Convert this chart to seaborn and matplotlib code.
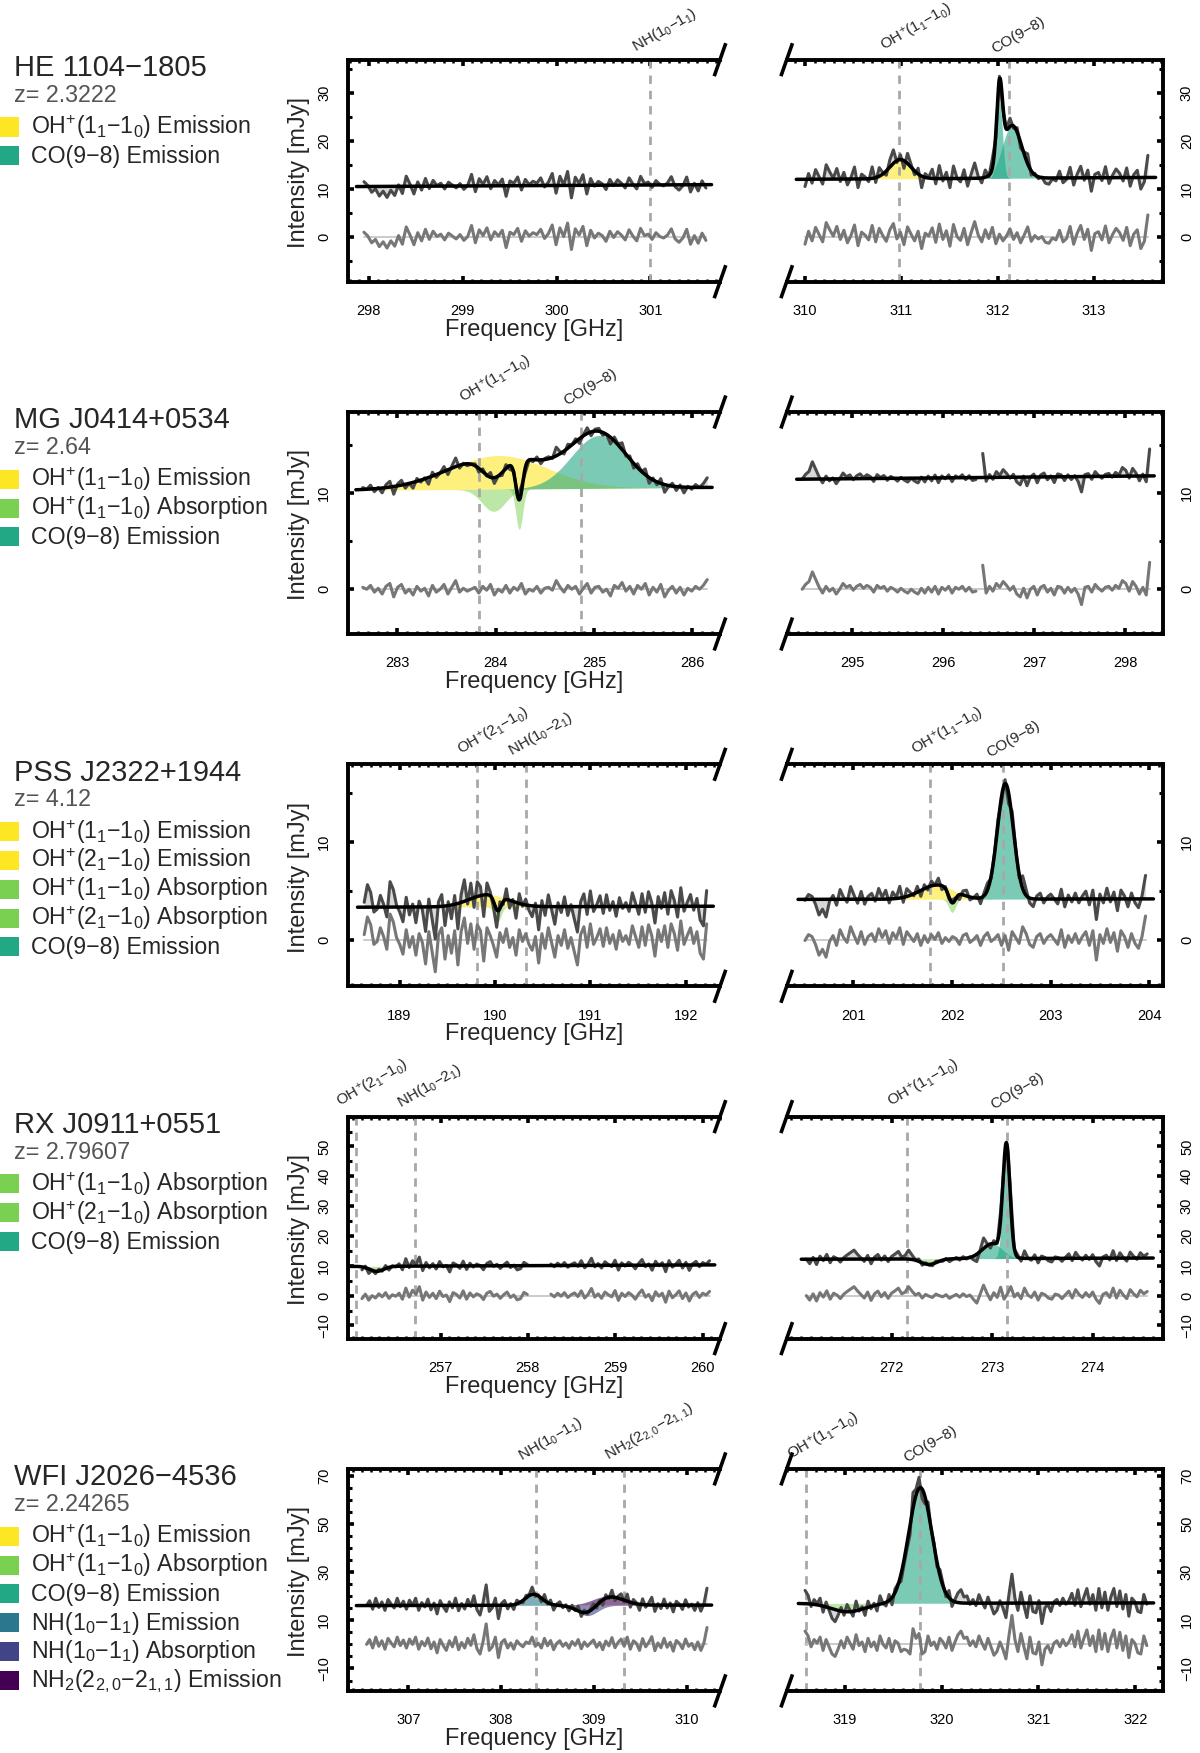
import numpy as np
import pandas as pd
import matplotlib
matplotlib.use("Agg")
import matplotlib.pyplot as plt
from matplotlib.patches import Rectangle
from matplotlib.ticker import MultipleLocator, FixedLocator
import seaborn as sns

sns.set_style("white")
plt.rcParams['font.family'] = ['Liberation Sans', 'DejaVu Sans']
plt.rcParams['mathtext.fontset'] = 'custom'
plt.rcParams['mathtext.rm'] = 'Liberation Sans'
plt.rcParams['mathtext.it'] = 'Liberation Sans:italic'

# colours of the line components
COL = {"oh_em": "#FDE725", "oh_ab": "#7AD151", "co": "#22A884",
       "nh_em": "#2A788E", "nh_ab": "#414487", "nh2_em": "#440154"}

def sub(s):
    return r"$_\mathregular{" + s + "}$"

OHP = r"OH$^\mathregular{+}$"
L_OH11 = OHP + "(1" + sub("1") + "−1" + sub("0") + ")"
L_OH21 = OHP + "(2" + sub("1") + "−1" + sub("0") + ")"
L_CO = "CO(9−8)"
L_NH11 = "NH(1" + sub("0") + "−1" + sub("1") + ")"
L_NH21 = "NH(1" + sub("0") + "−2" + sub("1") + ")"
L_NH2 = "NH" + sub("2") + "(2" + sub("2,0") + "−2" + sub("1,1") + ")"

# ---------------- HE 1104-1805 ----------------
he_l_res = [1.0,0.2,-1.2,-0.5,-2.0,-1.0,-2.3,-0.8,-1.9,0.3,-1.5,2.1,0.4,-1.6,0.9,-0.8,1.6,-0.5,1.2,0.1,
            0.6,-0.6,0.8,0.2,-0.4,0.5,-0.7,0.1,2.4,-1.2,1.5,0.3,1.9,-0.6,1.1,0.2,1.4,-2.2,1.0,0.5,
            1.8,-0.9,1.3,0.2,0.9,0.5,1.6,-0.3,0.7,2.5,-1.6,1.9,0.1,2.9,-2.6,1.7,0.4,2.2,-1.8,1.4,
            -0.2,0.8,0.3,-0.9,1.2,-0.1,1.1,0.4,-0.6,1.5,0.2,-0.8,1.8,0.3,0.6,-0.5,0.9,0.1,-0.2,0.4,
            1.7,-0.4,-1.1,-0.2,1.6,-1.5,0.3,-1.3,0.8,-0.7]
he_l_chan = (297.95, 301.59)
he_l_span = (297.87, 301.65)
he_l_cont = (10.5, 10.9)
he_l_lines = []
he_l_marks = [(301.0, L_NH11)]
he_l_xlim = (297.78, 301.74)
he_l_xticks = [298, 299, 300, 301]

he_r_res = [-1.5,1.2,-0.8,2.0,0.5,-1.0,3.0,1.5,0.2,2.2,-0.5,1.4,-1.2,0.3,2.5,-1.8,1.0,0.4,-0.6,2.4,
            -1.0,1.8,0.3,-0.9,1.5,2.8,-0.4,1.0,-1.6,2.1,0.6,-0.8,1.2,-2.4,0.8,0.2,1.9,-1.1,2.7,-0.5,
            1.3,-1.9,2.6,0.1,-0.7,1.8,-1.6,0.9,3.2,0.4,-1.0,1.5,-0.3,2.0,-1.4,0.6,-0.8,0.2,1.7,-0.5,
            0.9,-1.2,0.4,2.1,-0.9,0.3,-0.4,0.1,-1.1,-1.3,-0.2,-0.6,1.4,-1.0,-0.3,2.2,-1.5,0.8,2.4,-0.5,
            1.6,-2.8,0.7,1.1,-0.6,2.3,-1.2,0.5,1.8,0.9,-0.7,2.0,-1.8,0.6,1.5,-2.4,-0.9,4.6]
he_r_chan = (310.0, 313.56)
he_r_span = (309.91, 313.64)
he_r_cont = (12.0, 12.4)
he_r_lines = [("oh_em", 310.99, 4.0, 0.11), ("co", 312.15, 11.0, 0.10), ("co", 312.02, 16.0, 0.03)]
he_r_marks = [(310.98, L_OH11), (312.12, L_CO)]
he_r_xlim = (309.81, 313.72)
he_r_xticks = [310, 311, 312, 313]

# ---------------- MG J0414+0534 ----------------
mg_l_res = [0.2,0.0,0.4,-0.3,0.1,-0.5,0.3,0.6,-0.8,0.2,0.5,-0.4,0.0,-0.6,0.3,-0.2,0.1,-0.7,0.4,-0.3,
            0.0,0.5,-0.5,0.2,0.9,-0.3,0.1,-0.2,0.0,0.2,-0.4,0.3,-0.1,0.5,-0.6,0.0,-0.3,0.4,-0.4,0.2,
            -0.1,0.6,-0.5,0.0,-0.2,0.3,-0.4,0.1,0.2,-0.1,0.9,0.2,-0.3,0.4,0.0,0.3,-0.5,0.1,0.6,-0.4,
            0.2,0.3,-0.3,0.0,-0.7,0.4,0.1,0.7,-0.2,0.3,-0.5,0.4,0.0,0.6,-0.6,0.2,-0.3,0.5,-0.8,-0.1,
            0.3,-0.4,0.2,-0.6,0.1,-0.2,0.3,0.0,0.4,1.0]
mg_l_chan = (282.65, 286.15)
mg_l_span = (282.58, 286.2)
mg_l_cont = (10.3, 10.6)
mg_l_lines = [("oh_em", 284.03, 3.5, 0.5), ("oh_ab", 283.98, -2.3, 0.12),
              ("oh_ab", 284.24, -4.2, 0.035), ("co", 285.05, 5.5, 0.28)]
mg_l_marks = [(283.83, L_OH11), (284.87, L_CO)]
mg_l_xlim = (282.50, 286.28)
mg_l_xticks = [283, 284, 285, 286]

mg_r_res = [0.0,0.5,0.8,1.8,1.0,0.2,-0.4,0.3,-0.2,0.1,-0.5,0.0,0.6,0.2,0.4,-0.1,0.3,0.5,0.1,0.4,
            0.2,-0.3,0.4,0.1,0.3,-0.2,0.2,0.0,-0.3,0.1,-0.2,-0.4,0.0,-0.3,-0.5,0.1,-0.4,0.2,-0.3,0.3,
            -0.5,0.2,-0.1,0.3,-0.4,0.2,0.0,0.3,-0.2,0.2,-0.3,-0.2,np.nan,2.5,-0.4,0.3,-0.2,0.6,0.2,0.8,
            0.4,-0.1,0.3,-0.5,-0.8,0.1,-0.9,0.0,0.3,-0.6,0.2,0.4,-0.3,0.1,-0.6,0.3,0.2,-0.4,0.2,-0.3,
            0.1,-0.5,-1.6,0.2,0.3,-0.3,0.5,0.1,-0.2,0.2,0.3,-0.1,0.4,0.1,0.9,0.6,-0.2,0.8,0.3,-0.5,
            0.2,-0.6,2.8]
mg_r_chan = (294.45, 298.27)
mg_r_span = (294.39, 298.32)
mg_r_cont = (11.45, 11.8)
mg_r_lines = []
mg_r_marks = []
mg_r_xlim = (294.28, 298.42)
mg_r_xticks = [295, 296, 297, 298]

# ---------------- PSS J2322+1944 ----------------
pss_l_res = [0.5,2.3,1.5,-0.5,-0.2,1.2,0.3,-1.0,2.6,1.8,0.2,-0.5,-1.5,1.0,-0.8,0.3,-1.6,0.6,-0.3,-2.5,
             0.8,-1.2,-3.3,0.5,1.2,-2.0,0.4,-1.4,0.9,-2.6,0.8,2.2,-0.4,1.6,-1.0,1.5,0.9,-2.2,1.2,0.4,
             -0.6,-1.8,0.7,-0.3,1.1,-0.8,0.2,-1.6,1.0,-0.2,0.6,-0.5,-1.1,0.3,-2.4,0.6,-0.9,1.2,-0.3,-1.8,
             0.4,-0.6,1.0,-0.9,0.2,-1.2,-2.6,0.5,1.3,-0.8,1.6,-0.5,0.2,1.1,-0.7,1.2,-0.4,0.5,-1.0,0.9,
             -0.2,0.4,-0.5,1.4,0.3,-0.8,1.3,-0.6,1.5,0.4,-1.7,1.0,-0.2,1.4,-0.8,1.6,0.6,-1.1,1.9,-0.5,
             0.4,1.2,-0.4,0.8,-1.4,-2.0,1.6]
pss_l_chan = (188.63, 192.22)
pss_l_span = (188.56, 192.29)
pss_l_cont = (3.3, 3.4)
pss_l_lines = [("oh_em", 189.93, 1.25, 0.2), ("oh_ab", 190.03, -1.5, 0.035)]
pss_l_marks = [(189.81, L_OH21), (190.33, L_NH21)]
pss_l_xlim = (188.46, 192.36)
pss_l_xticks = [189, 190, 191, 192]

pss_r_res = [-0.1,0.5,0.3,-0.5,-1.6,-1.0,-1.8,-0.2,0.4,-0.6,1.0,0.2,-0.3,1.3,0.4,-0.4,0.8,-0.5,0.3,0.6,
             -0.2,1.1,0.2,0.9,-0.4,0.7,0.1,1.2,-0.5,0.8,0.3,-0.2,0.6,-0.6,0.4,-0.3,0.5,0.0,0.7,-0.4,
             0.2,-0.2,0.3,0.1,-0.5,0.4,0.6,-0.3,0.0,0.4,-0.6,0.3,0.7,-0.2,0.1,0.5,-0.6,0.4,-1.1,0.8,
             0.2,-0.4,1.3,0.6,-0.5,-0.8,0.3,0.6,-0.4,0.2,0.5,0.0,-0.5,1.0,-0.8,0.4,-0.3,0.6,-0.4,0.3,
             0.8,-0.6,0.9,-2.1,0.5,-0.4,1.1,-0.3,0.7,-1.2,0.9,0.3,-0.8,0.6,-0.4,-0.9,0.3,2.4]
pss_r_chan = (200.51, 203.96)
pss_r_span = (200.44, 204.04)
pss_r_cont = (4.1, 4.15)
pss_r_lines = [("oh_em", 201.85, 1.45, 0.17), ("oh_ab", 202.0, -1.35, 0.035), ("co", 202.54, 11.8, 0.08)]
pss_r_marks = [(201.78, L_OH11), (202.52, L_CO)]
pss_r_xlim = (200.325, 204.14)
pss_r_xticks = [201, 202, 203, 204]

# ---------------- RX J0911+0551 ----------------
rx_l_res = [-1.0,0.5,-1.5,0.0,-0.8,0.6,-0.4,1.0,-0.9,0.3,-0.2,0.8,-1.2,2.5,-0.5,1.8,0.4,3.0,-1.5,1.2,
            -0.6,0.8,-1.0,1.5,-0.3,0.2,-2.0,1.0,0.4,-0.8,1.6,-1.2,0.9,-0.4,0.6,0.1,-1.3,0.8,1.4,-0.2,
            0.5,-0.9,0.3,1.2,-0.6,0.2,-1.4,-1.0,1.1,0.4,np.nan,np.nan,np.nan,np.nan,np.nan,np.nan,
            0.5,-0.4,0.8,-0.2,1.0,-0.6,0.3,0.9,-0.3,1.6,-0.8,0.4,2.4,-0.5,0.6,-0.9,1.2,0.3,-0.4,1.7,
            -1.6,0.8,-0.3,1.0,0.2,-1.2,0.6,1.9,-0.5,0.4,-1.7,1.3,-0.2,0.8,-2.2,1.5,-0.7,0.3,1.6,-1.0,
            0.9,-1.8,0.4,1.2,-0.6,0.8,0.2,1.4]
rx_l_chan = (256.1, 260.08)
rx_l_span = (255.95, 260.14)
rx_l_cont = (9.8, 10.3)
rx_l_lines = [("oh_ab", 256.27, -1.7, 0.08)]
rx_l_marks = [(256.03, L_OH21), (256.71, L_NH21)]
rx_l_xlim = (255.94, 260.20)
rx_l_xticks = [257, 258, 259, 260]

rx_r_res = [0.0,-1.5,0.6,-1.8,1.0,-0.5,1.6,-1.2,0.8,0.2,-1.0,0.5,1.4,2.2,3.0,1.6,0.4,-0.8,1.2,-1.6,
            0.6,1.5,-0.4,1.0,-0.9,0.8,1.6,2.5,0.6,1.2,3.0,1.5,0.2,0.8,-0.8,0.4,-0.2,-0.6,0.5,0.0,
            -0.4,0.3,-0.9,-0.2,0.4,-0.5,0.6,-0.3,0.2,-1.2,-2.5,0.5,3.5,0.8,-1.4,1.0,-0.6,2.8,-1.2,0.6,
            3.0,-0.4,0.8,-1.0,2.5,0.2,-0.6,1.2,-1.5,0.8,0.3,-0.8,-1.2,0.5,0.2,-1.0,0.3,1.5,-0.8,2.0,
            0.4,-0.6,1.0,-0.4,1.2,-1.2,-2.6,0.4,1.0,-0.6,2.5,-0.8,1.8,0.2,-1.0,2.0,0.6,-0.4,1.8,0.6,1.4]
rx_r_chan = (271.15, 274.54)
rx_r_span = (271.10, 274.60)
rx_r_cont = (12.2, 12.6)
rx_r_lines = [("oh_ab", 272.37, -1.9, 0.08), ("co", 273.0, 5.0, 0.10), ("co", 273.14, 37.0, 0.035)]
rx_r_marks = [(272.15, L_OH11), (273.15, L_CO)]
rx_r_xlim = (270.955, 274.70)
rx_r_xticks = [272, 273, 274]

# ---------------- WFI J2026-4536 ----------------
wfi_l_res = [0.0,2.0,-1.5,3.0,-0.8,1.5,-2.0,2.5,0.6,-1.0,3.0,-0.5,1.8,-1.5,2.2,0.0,3.0,-2.0,1.2,-0.6,
             2.6,-1.8,1.0,-3.5,2.0,-0.5,-2.5,1.5,-1.0,3.0,-2.2,0.8,-1.5,2.5,-0.4,4.0,-1.8,-4.0,1.2,8.5,
             -2.5,-1.0,3.0,-5.5,0.8,2.0,-1.5,0.6,-2.0,1.5,0.0,-1.0,1.0,0.4,3.0,-0.8,0.5,-1.5,2.5,-0.6,
             1.6,-2.2,0.4,1.5,-0.8,0.6,-1.6,1.2,-0.4,2.0,-1.8,1.0,-0.8,0.6,1.8,-1.2,0.8,-2.2,1.4,-0.6,
             2.8,-1.4,0.8,2.2,-0.8,3.0,-2.0,1.5,0.4,-2.5,2.4,-1.0,0.8,3.2,-2.6,0.6,-1.4,2.5,-1.2,0.9,
             -2.8,1.6,0.4,-1.8,2.2,-0.8,0.4,-2.2,1.0,-2.5,0.6,7.0]
wfi_l_chan = (306.55, 310.22)
wfi_l_span = (306.44, 310.27)
wfi_l_cont = (16.1, 16.3)
wfi_l_lines = [("nh_em", 308.35, 4.6, 0.09), ("nh_ab", 308.93, -4.3, 0.11), ("nh2_em", 309.15, 3.8, 0.16)]
wfi_l_marks = [(308.38, L_NH11), (309.32, L_NH2)]
wfi_l_xlim = (306.35, 310.36)
wfi_l_xticks = [307, 308, 309, 310]

wfi_r_res = [5.5,3.5,-1.0,2.0,0.5,3.0,-2.5,2.0,-1.0,-4.0,-5.0,-2.0,1.5,-1.5,3.0,0.5,-2.0,4.0,-0.5,1.0,
             -3.0,2.5,-1.0,1.0,-2.5,3.5,0.0,-1.5,2.5,-3.0,1.5,0.5,-3.0,-2.0,-2.5,-4.0,6.5,2.5,4.5,-4.0,
             -3.0,3.5,-0.5,1.0,-2.0,2.5,1.0,-1.5,3.0,-2.5,1.0,4.0,5.5,2.5,3.0,-0.5,1.5,-1.0,3.5,0.5,
             -2.0,2.5,-1.0,-4.5,-3.0,1.0,-2.0,-6.0,3.5,12.0,2.0,-3.0,4.5,-1.0,-6.0,3.0,-3.5,-4.0,1.0,-8.5,
             -2.0,-0.5,-3.5,0.5,1.5,-1.0,2.0,-0.5,1.0,4.0,-1.0,5.5,-1.5,2.5,6.0,-0.5,3.5,-3.0,6.0,-2.0,
             4.5,-3.0,2.5,6.0,-1.5,5.0,-2.5,3.5,-5.5,2.0,0.5,-3.5,-4.0,3.5,-0.5]
wfi_r_chan = (318.59, 322.12)
wfi_r_span = (318.52, 322.19)
wfi_r_cont = (17.0, 17.2)
wfi_r_lines = [("oh_ab", 319.03, -3.5, 0.17), ("co", 319.78, 48.0, 0.12)]
wfi_r_marks = [(318.6, L_OH11), (319.78, L_CO)]
wfi_r_xlim = (318.40, 322.29)
wfi_r_xticks = [319, 320, 321, 322]

# source names, redshifts, legends and y axes
names = ["HE 1104−1805", "MG J0414+0534", "PSS J2322+1944", "RX J0911+0551", "WFI J2026−4536"]
redshifts = ["2.3222", "2.64", "4.12", "2.79607", "2.24265"]
legends = [
    [(L_OH11 + " Emission", "oh_em"), (L_CO + " Emission", "co")],
    [(L_OH11 + " Emission", "oh_em"), (L_OH11 + " Absorption", "oh_ab"), (L_CO + " Emission", "co")],
    [(L_OH11 + " Emission", "oh_em"), (L_OH21 + " Emission", "oh_em"), (L_OH11 + " Absorption", "oh_ab"),
     (L_OH21 + " Absorption", "oh_ab"), (L_CO + " Emission", "co")],
    [(L_OH11 + " Absorption", "oh_ab"), (L_OH21 + " Absorption", "oh_ab"), (L_CO + " Emission", "co")],
    [(L_OH11 + " Emission", "oh_em"), (L_OH11 + " Absorption", "oh_ab"), (L_CO + " Emission", "co"),
     (L_NH11 + " Emission", "nh_em"), (L_NH11 + " Absorption", "nh_ab"), (L_NH2 + " Emission", "nh2_em")],
]
ylims = [(-9.3, 36.9), (-4.66, 18.45), (-4.78, 17.9), (-14.4, 60.0), (-19.3, 72.8)]
yticklabs = [[0, 10, 20, 30], [0, 10], [0, 10], [-10, 0, 10, 20, 30, 40, 50], [-10, 10, 30, 50, 70]]

def panel(res, chan, span, cont, lines, marks, xlim, xticks):
    return dict(res=res, chan=chan, span=span, cont=cont, lines=lines, marks=marks, xlim=xlim, xticks=xticks)

panels = [
    (panel(he_l_res, he_l_chan, he_l_span, he_l_cont, he_l_lines, he_l_marks, he_l_xlim, he_l_xticks),
     panel(he_r_res, he_r_chan, he_r_span, he_r_cont, he_r_lines, he_r_marks, he_r_xlim, he_r_xticks)),
    (panel(mg_l_res, mg_l_chan, mg_l_span, mg_l_cont, mg_l_lines, mg_l_marks, mg_l_xlim, mg_l_xticks),
     panel(mg_r_res, mg_r_chan, mg_r_span, mg_r_cont, mg_r_lines, mg_r_marks, mg_r_xlim, mg_r_xticks)),
    (panel(pss_l_res, pss_l_chan, pss_l_span, pss_l_cont, pss_l_lines, pss_l_marks, pss_l_xlim, pss_l_xticks),
     panel(pss_r_res, pss_r_chan, pss_r_span, pss_r_cont, pss_r_lines, pss_r_marks, pss_r_xlim, pss_r_xticks)),
    (panel(rx_l_res, rx_l_chan, rx_l_span, rx_l_cont, rx_l_lines, rx_l_marks, rx_l_xlim, rx_l_xticks),
     panel(rx_r_res, rx_r_chan, rx_r_span, rx_r_cont, rx_r_lines, rx_r_marks, rx_r_xlim, rx_r_xticks)),
    (panel(wfi_l_res, wfi_l_chan, wfi_l_span, wfi_l_cont, wfi_l_lines, wfi_l_marks, wfi_l_xlim, wfi_l_xticks),
     panel(wfi_r_res, wfi_r_chan, wfi_r_span, wfi_r_cont, wfi_r_lines, wfi_r_marks, wfi_r_xlim, wfi_r_xticks)),
]

def baseline(f, p):
    (f0, f1), (c0, c1) = p["span"], p["cont"]
    return c0 + (c1 - c0) * (f - f0) / (f1 - f0)

def component(f, c, a, s):
    return a * np.exp(-0.5 * ((f - c) / s) ** 2)

def model(f, p):
    m = baseline(f, p)
    for _, c, a, s in p["lines"]:
        m = m + component(f, c, a, s)
    return m

# figure layout in pixels
W, H = 1200, 1753
fig = plt.figure(figsize=(12, 17.53), dpi=100)
TOP0, STEP, PH = 59.7, 352.3, 222.0
LX, RX = (348.0, 720.0), (786.7, 1163.3)

def draw(ax, p, side, ylim, ylabs):
    res = np.array(p["res"], float)
    f = np.linspace(p["chan"][0], p["chan"][1], len(res))
    mch = model(f, p)
    obs = mch + res
    df = pd.DataFrame(dict(freq=f, obs=obs, res=res, seg=np.cumsum(np.isnan(res)))).dropna()
    fg = np.linspace(p["span"][0], p["span"][1], 900)
    base = baseline(fg, p)

    ax.fill_between(f, np.ma.masked_invalid(obs), mch, color="#d9d9d9", lw=0, zorder=1)
    for kind, c, a, s in p["lines"]:
        al = 0.5 if kind == "oh_ab" else 0.6
        ax.fill_between(fg, base, base + component(fg, c, a, s), color=COL[kind], alpha=al, lw=0, zorder=2)
    for x, lab in p["marks"]:
        ax.axvline(x, color="#a8a8a8", lw=2.0, ls=(0, (3, 2.5)), zorder=2.5)
        ax.annotate(lab, xy=(x, 1), xycoords=("data", "axes fraction"), xytext=(-9, 3),
                    textcoords="offset points", rotation=30, rotation_mode="anchor",
                    ha="left", va="bottom", fontsize=11, annotation_clip=False)
    ax.plot([f[0], f[-1]], [0, 0], color="#c6c6c6", lw=1.3, zorder=2.6)
    sns.lineplot(data=df, x="freq", y="res", units="seg", estimator=None, color="#777777",
                 lw=2.2, ax=ax, zorder=3)
    sns.lineplot(data=df, x="freq", y="obs", units="seg", estimator=None, color="#4a4a4a",
                 lw=2.2, ax=ax, zorder=3.2)
    sns.lineplot(x=fg, y=model(fg, p), color="black", lw=2.5, ax=ax, zorder=4)
    ax.set_xlabel("")
    ax.set_ylabel("")
    ax.set_xlim(*p["xlim"])
    ax.set_ylim(*ylim)

    for s in ax.spines.values():
        s.set_linewidth(2.8)
        s.set_color("black")
    ax.spines["right" if side == "l" else "left"].set_visible(False)

    ax.xaxis.set_major_locator(FixedLocator(p["xticks"]))
    ax.xaxis.set_minor_locator(MultipleLocator(0.1))
    ax.yaxis.set_major_locator(FixedLocator(ylabs))
    ax.yaxis.set_minor_locator(MultipleLocator(5))
    ax.tick_params(axis="x", which="both", direction="in", top=True, bottom=True, colors="black")
    ax.tick_params(axis="x", which="major", length=4.0, width=2.6, labelsize=10.5, pad=16)
    ax.tick_params(axis="x", which="minor", length=2.0, width=1.8)
    left = side == "l"
    ax.tick_params(axis="y", which="both", direction="in", left=left, right=not left,
                   labelleft=left, labelright=not left, colors="black")
    ax.tick_params(axis="y", which="major", length=4.0, width=2.6, labelsize=10.5, pad=12,
                   labelrotation=90)
    ax.tick_params(axis="y", which="minor", length=3.0, width=2.2)
    for t in ax.get_yticklabels():
        t.set_va("center")

    # axis break marks
    bbox = ax.get_position()
    dx = 5.8 / (bbox.width * W)
    dy = 16.5 / (bbox.height * H)
    xa = 1.0 if left else 0.0
    for ya in (0.0, 1.0):
        ax.plot([xa - dx, xa + dx], [ya - dy, ya + dy], transform=ax.transAxes, color="black",
                lw=2.6, clip_on=False, zorder=6, solid_capstyle="butt")

for i in range(5):
    top = TOP0 + i * STEP
    yb = 1 - (top + PH) / H
    axl = fig.add_axes([LX[0] / W, yb, (LX[1] - LX[0]) / W, PH / H])
    axr = fig.add_axes([RX[0] / W, yb, (RX[1] - RX[0]) / W, PH / H])
    draw(axl, panels[i][0], "l", ylims[i], yticklabs[i])
    draw(axr, panels[i][1], "r", ylims[i], yticklabs[i])

    fig.text(14.5 / W, 1 - (top + 16.3) / H, names[i], fontsize=21, va="baseline")
    fig.text(14.5 / W, 1 - (top + 42.0) / H, "z= " + redshifts[i], fontsize=16.8,
             color="#555555", va="baseline")
    for k, (lab, kind) in enumerate(legends[i]):
        bl = top + 74.3 + k * 28.8
        fig.patches.append(Rectangle((0, 1 - (bl + 2.5) / H), 19 / W, 19 / H,
                                     transform=fig.transFigure, color=COL[kind], lw=0))
        fig.text(31.4 / W, 1 - bl / H, lab, fontsize=16.7, va="baseline")

    fig.text((LX[0] + LX[1]) / 2 / W, 1 - (top + PH + 48.0) / H, "Frequency [GHz]",
             fontsize=17, ha="center", va="center")
    fig.text(299 / W, 1 - (top + PH / 2 + 2) / H, "Intensity [mJy]", fontsize=17,
             rotation=90, ha="center", va="center")

fig.savefig("out.png", dpi=100)
